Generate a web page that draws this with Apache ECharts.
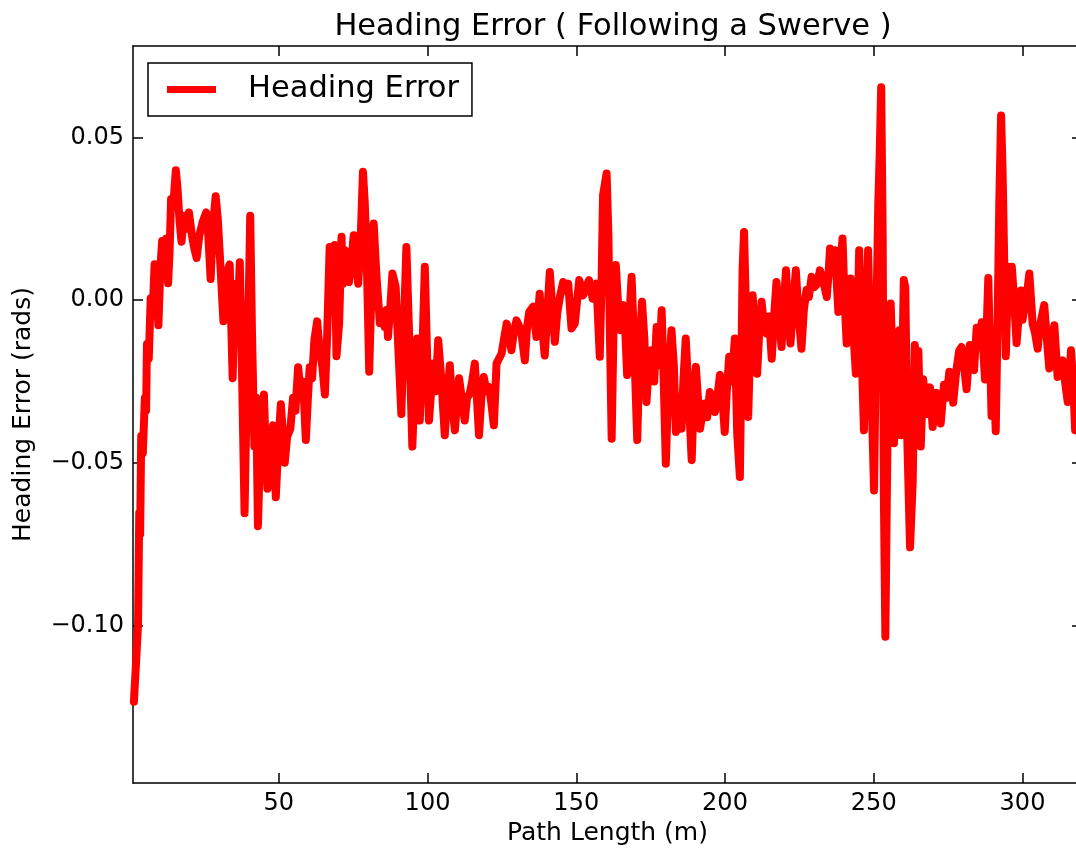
<!DOCTYPE html>
<html>
<head>
<meta charset="utf-8">
<title>Heading Error</title>
<script src="https://cdn.jsdelivr.net/npm/echarts@6.0.0/dist/echarts.min.js"></script>
<style>
  html, body { margin: 0; padding: 0; background: #fff; }
  #chart { width: 1076px; height: 853px; }
</style>
</head>
<body>
<div id="chart"></div>
<script>
// path length (m)
var pathLength = [
  1.3, 2.0, 2.7, 3.1, 3.4, 3.76, 4.3, 5.0, 5.4, 5.7,
  6.3, 6.95, 7.6, 8.26, 8.9, 9.54, 10.2, 10.8, 11.5, 12.2,
  12.8, 13.3, 13.8, 14.6, 15.4, 16.0, 16.6, 17.3, 18.2, 19.0,
  19.8, 20.8, 21.6, 22.4, 23.3, 24.4, 25.6, 26.3, 27.1, 27.8,
  28.8, 29.5, 30.3, 31.4, 32.3, 33.5, 34.5, 35.3, 36.2, 36.9,
  37.6, 38.5, 39.2, 40.0, 40.4, 41.0, 41.8, 42.4, 43.0, 43.6,
  44.3, 45.0, 45.6, 46.2, 47.0, 48.1, 48.6, 49.0, 49.8, 50.7,
  51.3, 52.0, 52.8, 53.9, 54.8, 55.6, 56.5, 57.3, 58.2, 59.1,
  59.8, 60.4, 61.2, 62.0, 62.9, 63.7, 64.6, 65.5, 66.3,
  67.1, 67.5, 68.2, 68.8, 69.4, 70.3, 71.1, 71.5, 72.2, 73.0,
  73.6, 74.4, 75.2, 76.0, 76.7, 77.5, 78.3, 78.9, 79.5, 80.0,
  80.4, 81.2, 81.9, 82.8, 84.0, 84.8, 85.6, 86.2, 86.7, 87.5,
  88.2, 88.8, 89.3, 90.2, 91.2, 92.0, 92.9, 93.8, 94.9, 95.7,
  96.5, 97.4, 98.3, 99.1, 99.8, 100.5, 101.9, 102.7, 103.6, 104.7,
  105.8, 106.6, 107.5, 108.3, 109.2, 110.0, 110.6, 111.5, 112.5, 113.3,
  114.2, 115.0, 115.9, 116.6, 117.3, 118.1, 118.9, 119.8, 120.7, 121.5,
  122.3, 123.2, 124.0, 124.9, 125.7, 126.6, 127.4, 128.2, 129.0, 129.9,
  130.8, 131.6, 132.7, 133.5, 134.2,
  135.5, 136.6, 137.7, 138.5, 139.4, 140.2, 141.1, 142.0, 142.8, 143.6,
  144.5, 145.6, 146.4, 147.3, 148.4, 149.5, 150.3, 151.0, 152.3, 153.3,
  154.3, 155.5, 156.8, 157.9, 158.5, 159.0, 160.2, 160.8, 161.4, 161.9,
  162.5, 163.3, 164.1, 164.9, 165.8, 166.5, 167.1, 167.9, 168.6, 169.5,
  170.5, 171.3, 172.1, 172.9, 173.6, 174.4, 175.3, 176.2, 177.0, 177.9,
  178.7, 179.4, 180.1, 181.0, 182.0, 182.8, 183.5, 184.5, 185.4, 186.0,
  186.8, 187.8, 188.8, 189.5, 190.2, 190.9, 191.6, 192.4, 193.2, 194.0,
  194.9, 195.7, 196.6, 197.4, 198.3, 199.1, 199.9, 200.6, 201.4,
  202.3, 203.3, 204.1, 205.0, 205.5, 205.9, 206.4, 207.1, 207.8, 208.5,
  209.3, 210.0, 210.8, 211.5, 212.3, 213.1, 214.0, 214.8, 215.7, 216.5,
  217.3, 218.2, 219.0, 219.7, 220.5, 221.2, 222.0, 222.9, 223.8, 224.7,
  225.7, 226.5, 227.4, 228.2, 229.1, 230.0, 231.0, 231.9, 233.0, 234.2,
  234.8, 235.3, 236.1, 237.0, 237.6, 238.1, 238.8, 239.5, 240.2, 240.9,
  241.5, 242.2, 243.0, 244.0, 244.6, 245.1, 245.9, 246.7, 247.4, 248.1,
  249.0, 250.1, 250.8, 251.5, 252.0, 252.5, 253.0, 253.4, 253.9, 254.4,
  254.9, 255.7, 256.3, 256.8, 257.7, 258.6,
  259.2, 260.1, 260.6, 261.3, 262.2, 263.1, 263.8, 264.4, 265.0, 265.8,
  266.6, 267.8, 268.9, 269.8, 271.1, 272.5, 273.6, 274.5, 275.4, 276.7,
  277.7, 278.7, 279.5, 280.3, 281.2, 282.3, 283.0, 283.7, 284.6, 285.5,
  286.3, 287.4, 288.5, 289.6, 290.3, 291.0, 291.6, 292.2, 292.8, 293.3,
  293.8, 294.4, 295.2, 295.8, 296.4, 297.2, 298.0, 298.8, 299.5, 300.0,
  300.6, 301.5, 302.3, 303.4, 304.2, 305.1, 305.8, 306.5, 307.3, 308.2,
  309.0, 309.8, 310.7, 311.8, 312.7, 313.5, 314.3, 315.2, 316.3, 317.0,
  317.7, 318.5, 319.3
];

// heading error (rads), one per path length
var headingError = [
  -0.1235, -0.112, -0.0996, -0.0654, -0.072, -0.0418, -0.047, -0.030, -0.034, -0.0135,
  -0.018, 0.0006, -0.004, 0.0111, 0.004, -0.0077, 0.010, 0.0182, 0.012, 0.019,
  0.0052, 0.015, 0.0311, 0.030, 0.040, 0.034, 0.025, 0.018, 0.026, 0.022,
  0.027, 0.020, 0.016, 0.013, 0.020, 0.024, 0.027, 0.020, 0.0065, 0.022,
  0.032, 0.025, 0.012, -0.0065, 0.008, 0.011, -0.024, 0.005, -0.005, 0.0117,
  -0.020, -0.0655, -0.030, 0.005, 0.026, -0.010, -0.045, -0.030, -0.0695, -0.050,
  -0.035, -0.029, -0.045, -0.058, -0.045, -0.0385, -0.050, -0.0606, -0.045, -0.032,
  -0.040, -0.050, -0.042, -0.0395, -0.030, -0.034, -0.0206, -0.028, -0.025, -0.043,
  -0.030, -0.0206, -0.024, -0.012, -0.0065, -0.015, -0.020, -0.029, -0.010,
  0.0164, 0.0028, 0.002, 0.017, -0.0172, -0.007, 0.0195, 0.005, 0.0154, 0.010,
  0.0056, 0.012, 0.020, 0.012, 0.0051, 0.018, 0.0395, 0.030, 0.0154, -0.005,
  -0.022, 0.005, 0.0236, 0.008, -0.0071, -0.004, -0.0082, -0.003, -0.0113, -0.002,
  0.0082, 0.006, 0.0041, -0.015, -0.035, -0.010, 0.0164, -0.010, -0.045, -0.025,
  -0.0118, -0.037, -0.015, 0.0103, -0.015, -0.037, -0.0195, -0.028, -0.0123, -0.025,
  -0.0415, -0.030, -0.020, -0.032, -0.040, -0.030, -0.024, -0.030, -0.037, -0.030,
  -0.0287, -0.025, -0.0195, -0.030, -0.0415, -0.030, -0.0236, -0.028, -0.0267, -0.032,
  -0.0385, -0.0195, -0.018, -0.0164, -0.012, -0.0072, -0.010, -0.0154, -0.010, -0.0062,
  -0.008, -0.0103, -0.0185, -0.008, -0.0036,
  -0.002, -0.0113, 0.002, -0.008, -0.017, -0.005, 0.0087, -0.003, -0.0128, -0.004,
  0.001, 0.0056, 0.003, 0.0051, -0.0087, -0.0072, 0.000, 0.0062, 0.0015, 0.004,
  0.0062, 0.0005, 0.0051, -0.0174, 0.005, 0.0323, 0.039, 0.020, -0.015, -0.0426,
  -0.010, 0.0108, -0.002, -0.0092, -0.0015, -0.010, -0.023, -0.005, 0.0072, -0.015,
  -0.043, -0.015, -0.0005, -0.012, -0.0313, -0.020, -0.0154, -0.025, -0.0082, -0.020,
  -0.0031, -0.025, -0.0503, -0.025, -0.0092, -0.020, -0.0405, -0.030, -0.0395, -0.025,
  -0.0118, -0.030, -0.0492, -0.030, -0.0205, -0.030, -0.0395, -0.035, -0.0318, -0.036,
  -0.0282, -0.030, -0.0344, -0.030, -0.023, -0.030, -0.0405, -0.028, -0.0174,
  -0.025, -0.0118, -0.041, -0.0544, -0.020, 0.0092, 0.021, -0.005, -0.0359, -0.012,
  0.0015, -0.010, -0.0226, -0.010, -0.0005, -0.008, -0.0103, -0.005, -0.018, -0.005,
  0.0056, -0.005, -0.0144, -0.002, 0.0092, -0.003, -0.0133, -0.002, 0.0092, -0.004,
  -0.0149, -0.003, 0.0031, 0.001, 0.0072, 0.004, 0.0051, 0.0092, 0.006, 0.001,
  0.008, 0.0159, 0.010, 0.0154, 0.005, -0.0036, 0.010, 0.019, 0.000, -0.0133,
  -0.002, 0.0067, -0.008, -0.0226, -0.005, 0.0154, -0.015, -0.040, -0.010, 0.0154,
  -0.020, -0.0585, -0.010, 0.0287, 0.045, 0.0655, 0.020, -0.060, -0.1035, -0.060,
  -0.020, -0.001, -0.020, -0.044, -0.025, -0.0092,
  -0.0415, 0.0062, 0.004, -0.0437, -0.076, -0.0556, -0.0138, -0.025, -0.0156, -0.045,
  -0.0243, -0.035, -0.0268, -0.039, -0.0285, -0.0379, -0.026, -0.030, -0.022, -0.0315,
  -0.022, -0.0156, -0.0144, -0.020, -0.0274, -0.0138, -0.018, -0.0215, -0.0085, -0.012,
  -0.0068, -0.0244, 0.0068, -0.0356, -0.020, -0.0403, -0.0085, 0.030, 0.0568, 0.040,
  0.015, -0.0172, 0.0103, 0.005, 0.0103, 0.000, -0.0132, -0.004, 0.003, -0.006,
  -0.006, 0.002, 0.0082, -0.0072, -0.010, -0.0149, -0.008, -0.005, -0.0015, -0.012,
  -0.021, -0.012, -0.0077, -0.0236, -0.020, -0.0185, -0.025, -0.0313, -0.0154, -0.025,
  -0.040, -0.032, -0.042
];

var xTicks = [50, 100, 150, 200, 250, 300];
var yTicks = [-0.10, -0.05, 0.00, 0.05];

var font = 'DejaVu Sans';

var points = [];
var n = Math.min(pathLength.length, headingError.length);
for (var i = 0; i < n; i++) {
  points.push([pathLength[i], headingError[i]]);
}

function spine() {
  return { show: true, onZero: false, lineStyle: { color: '#000', width: 1.5 } };
}
function ticks(values) {
  return { show: true, inside: true, length: 10, customValues: values, lineStyle: { color: '#000', width: 1.5 } };
}

var chart = echarts.init(document.getElementById('chart'));
chart.setOption({
  animation: false,
  backgroundColor: '#fff',
  title: {
    text: 'Heading Error ( Following a Swerve )',
    left: 608,
    top: 7,
    textAlign: 'center',
    textStyle: { fontFamily: font, fontSize: 30.5, fontWeight: 'normal', color: '#000' }
  },
  legend: {
    left: 148,
    top: 63,
    padding: [11, 13, 11, 19],
    borderColor: '#000',
    borderWidth: 1.5,
    borderRadius: 0,
    itemWidth: 49,
    itemHeight: 7,
    icon: 'rect',
    textStyle: { fontFamily: font, fontSize: 30.5, color: '#000', padding: [0, 0, 0, 27] },
    data: ['Heading Error']
  },
  grid: { left: 133, top: 46, width: 949, height: 737, containLabel: false, outerBoundsMode: 'none' },
  xAxis: [
    {
      type: 'value', position: 'bottom', min: 1, max: 320,
      axisLine: spine(),
      axisTick: ticks(xTicks),
      axisLabel: {
        customValues: xTicks, margin: 9, fontFamily: font, fontSize: 24, color: '#000',
        formatter: function (v) { return String(v); }
      },
      splitLine: { show: false },
      name: 'Path Length (m)', nameLocation: 'middle', nameGap: 34,
      nameTextStyle: { fontFamily: font, fontSize: 25, color: '#000' }
    },
    {
      type: 'value', position: 'top', min: 1, max: 320,
      axisLine: spine(),
      axisTick: ticks(xTicks),
      axisLabel: { show: false },
      splitLine: { show: false }
    }
  ],
  yAxis: [
    {
      type: 'value', position: 'left', min: -0.1485, max: 0.0782,
      axisLine: spine(),
      axisTick: ticks(yTicks),
      axisLabel: {
        customValues: yTicks, margin: 9, fontFamily: font, fontSize: 24, color: '#000',
        formatter: function (v) { return v.toFixed(2).replace('-', '\u2212'); }
      },
      splitLine: { show: false },
      name: 'Heading Error (rads)', nameLocation: 'middle', nameGap: 97,
      nameTextStyle: { fontFamily: font, fontSize: 25, color: '#000' }
    },
    {
      type: 'value', position: 'right', min: -0.1485, max: 0.0782,
      axisLine: spine(),
      axisTick: ticks(yTicks),
      axisLabel: { show: false },
      splitLine: { show: false }
    }
  ],
  series: [
    {
      name: 'Heading Error',
      type: 'line',
      xAxisIndex: 0,
      yAxisIndex: 0,
      data: points,
      showSymbol: false,
      symbol: 'none',
      clip: true,
      itemStyle: { color: '#ff0000' },
      lineStyle: { color: '#ff0000', width: 8, cap: 'round', join: 'round' }
    }
  ]
});
</script>
</body>
</html>
